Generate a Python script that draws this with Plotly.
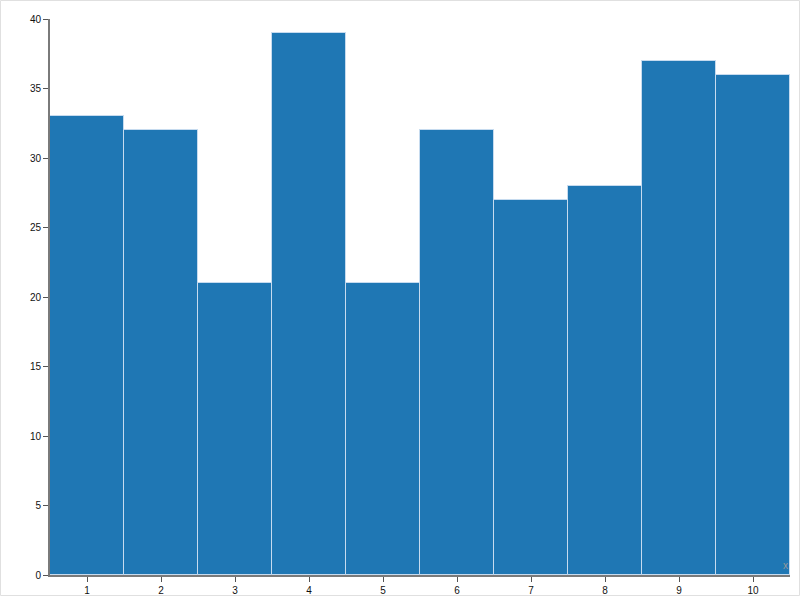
import plotly.graph_objects as go

categories = [1, 2, 3, 4, 5, 6, 7, 8, 9, 10]
values = [33, 32, 21, 39, 21, 32, 27, 28, 37, 36]
y_ticks = [0, 5, 10, 15, 20, 25, 30, 35, 40]

W, H = 800, 596
L, R, T, B = 50, 10, 19, 21

fig = go.Figure(go.Bar(
    x=categories, y=values,
    marker=dict(color="#1f77b4", line=dict(color="#c6dbef", width=1)),
    width=1,
))

axis_common = dict(
    showgrid=False, zeroline=False, showline=True, linecolor="#7a7a7a", linewidth=2,
    ticks="outside", ticklen=5, tickcolor="#555555", tickwidth=1, automargin=False,
    tickfont=dict(family="Liberation Sans, Arial, sans-serif", size=10, color="#111111"),
)

fig.update_layout(
    width=W, height=H,
    margin=dict(l=L, r=R, t=T, b=B, pad=0),
    paper_bgcolor="white", plot_bgcolor="white",
    bargap=0, showlegend=False,
    xaxis=dict(range=[0.5, 10.5], tickvals=categories, ticktext=[str(c) for c in categories], **axis_common),
    yaxis=dict(range=[0, 40], tickvals=y_ticks, ticktext=[str(v) for v in y_ticks], **axis_common),
)

pw, ph = W - L - R, H - T - B
fig.add_shape(type="rect", xref="paper", yref="paper",
              x0=(0.5 - L) / pw, x1=(W - 0.5 - L) / pw,
              y0=-(H - 0.5 - T - ph) / ph, y1=1 + (T - 0.5) / ph,
              line=dict(color="#e0e0e0", width=1), layer="above")

fig.add_annotation(text="x", xref="paper", yref="paper", x=1, y=0, xanchor="right", yanchor="bottom",
                   showarrow=False, font=dict(family="Liberation Sans, Arial, sans-serif", size=10, color="#999999"),
                   yshift=2)

fig.write_html("out.html", config={"displayModeBar": False},
               post_script="document.body.style.margin='0';document.body.style.overflow='hidden';")
